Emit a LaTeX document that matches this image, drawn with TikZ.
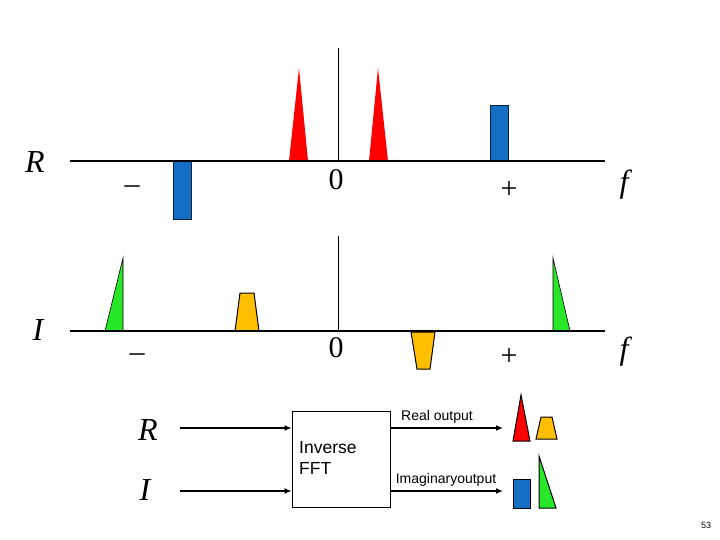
\documentclass[tikz,border=0pt]{standalone}
\usepackage{fontspec}
\setmainfont{Liberation Serif}
\setsansfont{Liberation Sans}
\usetikzlibrary{arrows.meta}
\definecolor{myred}{RGB}{255,0,0}
\definecolor{myblue}{RGB}{20,110,195}
\definecolor{myorange}{RGB}{255,190,0}
\definecolor{mygreen}{RGB}{40,230,40}
\tikzset{
  axisline/.style={line width=1.4pt},
  vline/.style={line width=0.8pt},
  bigmath/.style={font=\fontsize{32}{36}\selectfont\itshape, inner sep=0pt},
  bigup/.style={font=\fontsize{30}{34}\selectfont, inner sep=0pt},
  sans/.style={font=\sffamily\fontsize{14}{16}\selectfont, inner sep=0pt},
  flow/.style={line width=1.8pt, -{Latex[length=7pt,width=6pt]}},
  shp/.style={draw=black, line width=1pt},
}
\begin{document}
\begin{tikzpicture}[x=1pt,y=-1pt]
\useasboundingbox[fill=white] (0,0) rectangle (720,540);
% ---------- top (R) spectrum ----------
\coordinate (ra1) at (70,161);
\coordinate (ra2) at (605,161);
\coordinate (rv1) at (338,48);
\coordinate (rv2) at (338,161);
\fill[myred] (289,161) -- (299,68) -- (308,161) -- cycle;
\fill[myred] (369,161) -- (378,68) -- (388,161) -- cycle;
\filldraw[fill=myblue, draw=black!70!myblue, line width=0.6pt] (490,105) rectangle (508,161);
\filldraw[fill=myblue, draw=black!70!myblue, line width=0.6pt] (173,161) rectangle (191,219);
\draw[vline] (rv1) -- (rv2);
\draw[axisline] (ra1) -- (ra2);
\node[bigmath] (rlab) at (35,162) {R};
\node[bigup] (rminus) at (132,190) {–};
\node[bigup] (rzero) at (336,180) {0};
\node[bigup] (rplus) at (509,190) {+};
\node[bigmath] (rf) at (624,185) {f};
% ---------- middle (I) spectrum ----------
\coordinate (ia1) at (70,331);
\coordinate (ia2) at (605,331);
\coordinate (iv1) at (338,236);
\coordinate (iv2) at (338,331);
\filldraw[fill=mygreen, draw=black, line width=0.6pt] (105,331) -- (123,258) -- (123,331) -- cycle;
\filldraw[fill=myorange, draw=black, line width=1pt] (235,331) -- (240,293) -- (254,293) -- (259,331) -- cycle;
\filldraw[fill=myorange, draw=black, line width=1pt] (411,332) -- (435,332) -- (430,369) -- (417,369) -- cycle;
\filldraw[fill=mygreen, draw=black, line width=0.6pt] (553,331) -- (553,258) -- (570,331) -- cycle;
\draw[vline] (iv1) -- (iv2);
\draw[axisline] (ia1) -- (ia2);
\node[bigmath] (ilab) at (38,330) {I};
\node[bigup] (iminus) at (137,358) {–};
\node[bigup] (izero) at (336,348) {0};
\node[bigup] (iplus) at (509,357) {+};
\node[bigmath] (if) at (624,352) {f};
% ---------- block diagram ----------
\node[draw, line width=0.8pt, minimum width=98pt, minimum height=96pt, inner sep=0pt] (fft) at (341,459) {};
\node[font=\sffamily\fontsize{17.5}{21}\selectfont, align=left, anchor=west, inner sep=0pt] (fftlab) at (299,458) {Inverse\\FFT};
\node[bigmath] (bR) at (148,430) {R};
\node[bigmath] (bI) at (145,490) {I};
\coordinate (rin) at (180,428);
\coordinate (iin) at (180,491);
\coordinate (rout) at (503,428);
\coordinate (iout) at (503,491);
\draw[flow] (rin) -- (fft.west |- rin);
\draw[flow] (iin) -- (fft.west |- iin);
\draw[flow] (fft.east |- rout) -- (rout);
\draw[flow] (fft.east |- iout) -- (iout);
\node[sans] (realout) at (437,417) {Real output};
\node[sans] (imagout) at (446,480) {Imaginaryoutput};
\filldraw[fill=myred, shp] (513,441) -- (521,395) -- (530,441) -- cycle;
\filldraw[fill=myorange, shp] (536,439) -- (541,417) -- (552,417) -- (557,439) -- cycle;
\filldraw[fill=myblue, shp] (513,479) rectangle (530,508);
\filldraw[fill=mygreen, shp] (539,508) -- (539,456) -- (556,508) -- cycle;
\node[font=\sffamily\fontsize{9}{10}\selectfont, inner sep=0pt] (pg) at (706,525) {53};
\end{tikzpicture}
\end{document}
